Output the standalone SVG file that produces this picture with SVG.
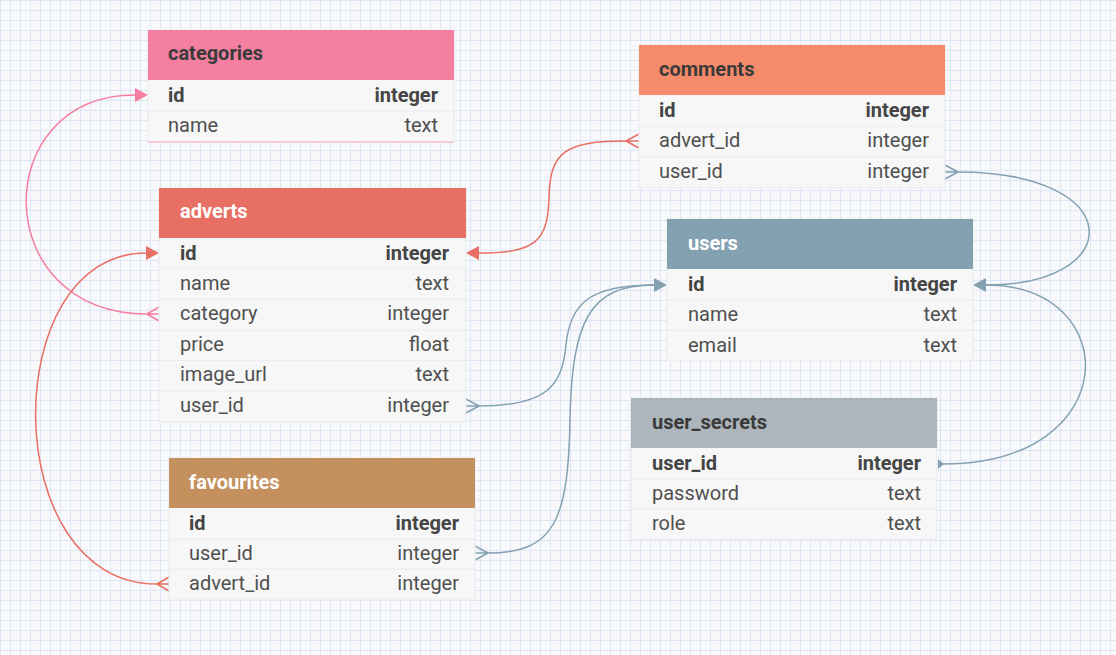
<svg xmlns="http://www.w3.org/2000/svg" width="1116" height="655" viewBox="0 0 1116 655">
<defs>
<pattern id="grid" width="10" height="10" patternUnits="userSpaceOnUse">
<path d="M0.5 0V10M0 0.5H10" stroke="#dde6f6" stroke-width="1" fill="none"/>
</pattern>
<style>
.body{fill:#f7f7f7;stroke:#e6e9ee;stroke-width:1}
.sep{stroke:#ececf0;stroke-width:1}
.ht{font-family:Roboto,"Liberation Sans",sans-serif;font-size:20px;font-weight:bold}
.dark{fill:#3a3a3a}
.light{fill:#ffffff}
.t{font-family:Roboto,"Liberation Sans",sans-serif;font-size:20px;fill:#505050}
.b{font-weight:bold;fill:#454545}
.r{text-anchor:end}
.c{fill:none;stroke-width:1.5}
.pink{stroke:#f47fa0}
.red{stroke:#e86f63}
.blue{stroke:#84a1b2}
</style>
</defs>
<rect width="1116" height="655" fill="#f9f9fb"/>
<rect width="1116" height="655" fill="url(#grid)"/>

<g id="connectors">
<path class="c pink" d="M147 314 C-12 314 -12 95 135 95"/>
<path class="c pink" d="M147 314 L159 307 M147 314 L159 314 M147 314 L159 321"/>
<polygon points="135,88 148,95 135,102" fill="#f47fa0"/>
<path class="c red" d="M157 584 C-3 584 -3 253 146 253"/>
<path class="c red" d="M157 584 L169 577 M157 584 L169 584 M157 584 L169 591"/>
<polygon points="146,246 159,253 146,260" fill="#e86f63"/>
<path class="c red" d="M626 141 C565 141 550 152 549 197 C548 242 535 253 479 253"/>
<path class="c red" d="M626 141 L639 134 M626 141 L639 141 M626 141 L639 148"/>
<polygon points="479,246 466,253 479,260" fill="#e86f63"/>
<path class="c blue" d="M479 406 C548 406 562 385 566 345 C570 303 590 285 654 285"/>
<path class="c blue" d="M479 406 L466 399 M479 406 L466 406 M479 406 L466 413"/>
<path class="c blue" d="M488 553 C555 553 568 520 570 420 C572 320 590 285 654 285"/>
<path class="c blue" d="M488 553 L475 546 M488 553 L475 553 M488 553 L475 560"/>
<polygon points="654,278 667,285 654,292" fill="#84a1b2"/>
<path class="c blue" d="M958 172 C1128 172 1128 285 986 285"/>
<path class="c blue" d="M958 172 L945 165 M958 172 L945 172 M958 172 L945 179"/>
<path class="c blue" d="M943 464 C1125 464 1125 285 986 285"/>
<polygon points="938,459 944,464 938,469" fill="#84a1b2"/>
<polygon points="986,278 973,285 986,292" fill="#84a1b2"/>
</g>

<g id="categories">
<rect class="body" x="148" y="30" width="306" height="112"/>
<rect x="148" y="30" width="306" height="50" fill="#f47fa0"/>
<line class="sep" x1="148" y1="111" x2="454" y2="111"/>
<line x1="148" y1="142" x2="454" y2="142" stroke="#f6c2d2" stroke-width="1.5"/>
<text class="ht dark" x="168" y="60">categories</text>
<text class="t b" x="168" y="102">id</text><text class="t b r" x="438" y="102">integer</text>
<text class="t" x="168" y="132">name</text><text class="t r" x="438" y="132">text</text>
</g>

<g id="comments">
<rect class="body" x="639" y="45" width="306" height="143"/>
<rect x="639" y="45" width="306" height="50" fill="#f58b6a"/>
<line class="sep" x1="639" y1="126" x2="945" y2="126"/>
<line class="sep" x1="639" y1="157" x2="945" y2="157"/>
<text class="ht dark" x="659" y="76">comments</text>
<text class="t b" x="659" y="117">id</text><text class="t b r" x="929" y="117">integer</text>
<text class="t" x="659" y="147">advert_id</text><text class="t r" x="929" y="147">integer</text>
<text class="t" x="659" y="178">user_id</text><text class="t r" x="929" y="178">integer</text>
</g>

<g id="adverts">
<rect class="body" x="159" y="188" width="307" height="234"/>
<rect x="159" y="188" width="307" height="50" fill="#e86f63"/>
<line class="sep" x1="159" y1="268.5" x2="466" y2="268.5"/>
<line class="sep" x1="159" y1="299" x2="466" y2="299"/>
<line class="sep" x1="159" y1="330" x2="466" y2="330"/>
<line class="sep" x1="159" y1="360.5" x2="466" y2="360.5"/>
<line class="sep" x1="159" y1="391" x2="466" y2="391"/>
<text class="ht light" x="180" y="218">adverts</text>
<text class="t b" x="180" y="260">id</text><text class="t b r" x="449" y="260">integer</text>
<text class="t" x="180" y="290">name</text><text class="t r" x="449" y="290">text</text>
<text class="t" x="180" y="320">category</text><text class="t r" x="449" y="320">integer</text>
<text class="t" x="180" y="351">price</text><text class="t r" x="449" y="351">float</text>
<text class="t" x="180" y="381">image_url</text><text class="t r" x="449" y="381">text</text>
<text class="t" x="180" y="412">user_id</text><text class="t r" x="449" y="412">integer</text>
</g>

<g id="users">
<rect class="body" x="667" y="219" width="306" height="142"/>
<rect x="667" y="219" width="306" height="50" fill="#84a1b2"/>
<line class="sep" x1="667" y1="300" x2="973" y2="300"/>
<line class="sep" x1="667" y1="330" x2="973" y2="330"/>
<text class="ht light" x="688" y="250">users</text>
<text class="t b" x="688" y="291">id</text><text class="t b r" x="957" y="291">integer</text>
<text class="t" x="688" y="321">name</text><text class="t r" x="957" y="321">text</text>
<text class="t" x="688" y="352">email</text><text class="t r" x="957" y="352">text</text>
</g>

<g id="user_secrets">
<rect class="body" x="631" y="398" width="306" height="142"/>
<rect x="631" y="398" width="306" height="50" fill="#adb5bd"/>
<line class="sep" x1="631" y1="479" x2="937" y2="479"/>
<line class="sep" x1="631" y1="509" x2="937" y2="509"/>
<text class="ht dark" x="652" y="429">user_secrets</text>
<text class="t b" x="652" y="470">user_id</text><text class="t b r" x="921" y="470">integer</text>
<text class="t" x="652" y="500">password</text><text class="t r" x="921" y="500">text</text>
<text class="t" x="652" y="530">role</text><text class="t r" x="921" y="530">text</text>
</g>

<g id="favourites">
<rect class="body" x="169" y="458" width="306" height="142"/>
<rect x="169" y="458" width="306" height="50" fill="#c4905d"/>
<line class="sep" x1="169" y1="539" x2="475" y2="539"/>
<line class="sep" x1="169" y1="569" x2="475" y2="569"/>
<text class="ht light" x="189" y="489">favourites</text>
<text class="t b" x="189" y="530">id</text><text class="t b r" x="459" y="530">integer</text>
<text class="t" x="189" y="560">user_id</text><text class="t r" x="459" y="560">integer</text>
<text class="t" x="189" y="590">advert_id</text><text class="t r" x="459" y="590">integer</text>
</g>
</svg>
